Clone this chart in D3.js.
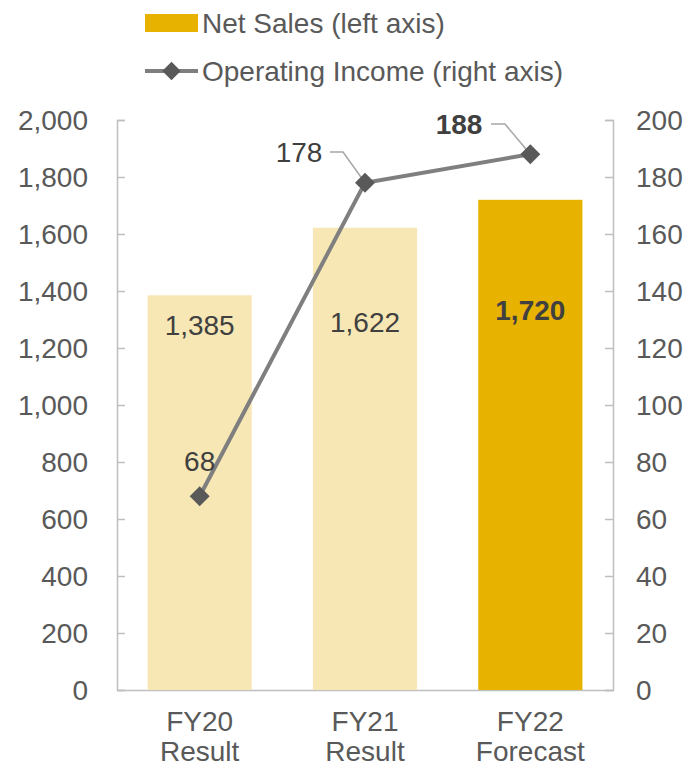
<!DOCTYPE html>
<html><head><meta charset="utf-8">
<script src="https://cdn.jsdelivr.net/npm/d3@7"></script>
<style>body{margin:0;background:#fff}svg{display:block;font-family:"Liberation Sans",Arial,sans-serif}</style>
</head><body><svg id="c" width="685" height="768"></svg>
<script>
const categories = ["FY20|Result","FY21|Result","FY22|Forecast"];
const netSales = [1385,1622,1720];
const opIncome = [68,178,188];
const leftTicks = [0,200,400,600,800,1000,1200,1400,1600,1800,2000];
const rightTicks = [0,20,40,60,80,100,120,140,160,180,200];
const barColors = ["#F7E7B4","#F7E7B4","#E8B200"];
const boldLabel = [false,false,true];

const svg = d3.select("#c");
const L=117,R=613,T=120,B=690, FS=28;
const x = d3.scaleBand().domain(categories).range([L,R]).paddingInner(0.37).paddingOuter(0.185);
const yL = d3.scaleLinear().domain([0,2000]).range([B,T]);
const yR = d3.scaleLinear().domain([0,200]).range([B,T]);
const axisCol="#BFBFBF", txtCol="#595959", lblCol="#404040";

// axes
const gl = svg.append("g").attr("transform",`translate(${L},0)`)
  .call(d3.axisRight(yL).tickValues(leftTicks).tickSize(8).tickFormat(""));
const gr = svg.append("g").attr("transform",`translate(${R},0)`)
  .call(d3.axisLeft(yR).tickValues(rightTicks).tickSize(8).tickFormat(""));
[gl,gr].forEach(g=>{g.selectAll("path,line").attr("stroke",axisCol).attr("stroke-width",1.5);});
const gb = svg.append("g").attr("transform",`translate(0,${B})`)
  .call(d3.axisBottom(x).tickSize(0).tickFormat(""));
gb.select("path").attr("stroke",axisCol).attr("stroke-width",1.5);

// tick labels
svg.append("g").selectAll("text").data(leftTicks).join("text")
  .attr("x",88).attr("y",d=>yL(d)).attr("dy","0.35em").attr("text-anchor","end")
  .attr("font-size",FS).attr("fill",txtCol).text(d=>d3.format(",")(d));
svg.append("g").selectAll("text").data(rightTicks).join("text")
  .attr("x",636).attr("y",d=>yR(d)).attr("dy","0.35em").attr("text-anchor","start")
  .attr("font-size",FS).attr("fill",txtCol).text(d=>d);

// category labels
const cl = svg.append("g").selectAll("text").data(categories).join("text")
  .attr("x",d=>x(d)+x.bandwidth()/2).attr("text-anchor","middle")
  .attr("font-size",FS).attr("fill",txtCol);
cl.append("tspan").attr("x",d=>x(d)+x.bandwidth()/2).attr("y",731).text(d=>d.split("|")[0]);
cl.append("tspan").attr("x",d=>x(d)+x.bandwidth()/2).attr("y",761).text(d=>d.split("|")[1]);

// bars
svg.append("g").selectAll("rect").data(netSales).join("rect")
  .attr("x",(d,i)=>x(categories[i])).attr("width",x.bandwidth())
  .attr("y",d=>yL(d)).attr("height",d=>B-yL(d)).attr("fill",(d,i)=>barColors[i]);

// bar labels
const barLabelDy=[30,94,110];
svg.append("g").selectAll("text").data(netSales).join("text")
  .attr("x",(d,i)=>x(categories[i])+x.bandwidth()/2).attr("y",(d,i)=>yL(d)+barLabelDy[i])
  .attr("dy","0.35em").attr("text-anchor","middle").attr("font-size",FS)
  .attr("font-weight",(d,i)=>boldLabel[i]?"bold":"normal").attr("fill",lblCol)
  .text(d=>d3.format(",")(d));

// line
const cx = i=>x(categories[i])+x.bandwidth()/2;
const line = d3.line().x((d,i)=>cx(i)).y(d=>yR(d));
svg.append("path").datum(opIncome).attr("d",line).attr("fill","none")
  .attr("stroke","#7F7F7F").attr("stroke-width",4);

// leader lines
const leaders = [null,[[330,152],[343,152],[cx(1),yR(opIncome[1])]],[[491,124],[505,124],[cx(2),yR(opIncome[2])]]];
leaders.forEach(p=>{ if(p) svg.append("path").attr("d",d3.line()(p)).attr("fill","none").attr("stroke","#A6A6A6").attr("stroke-width",1.5);});

// markers
svg.append("g").selectAll("path").data(opIncome).join("path")
  .attr("d",d3.symbol().type(d3.symbolSquare).size(200))
  .attr("transform",(d,i)=>`translate(${cx(i)},${yR(d)}) rotate(45)`).attr("fill","#595959");

// line labels
const lblPos=[[cx(0),461],[299,152],[459,124]];
svg.append("g").selectAll("text").data(opIncome).join("text")
  .attr("x",(d,i)=>lblPos[i][0]).attr("y",(d,i)=>lblPos[i][1]).attr("dy","0.35em")
  .attr("text-anchor","middle").attr("font-size",FS)
  .attr("font-weight",(d,i)=>boldLabel[i]?"bold":"normal").attr("fill",lblCol).text(d=>d);

// legend
const lg = svg.append("g");
lg.append("rect").attr("x",145).attr("y",14).attr("width",53).attr("height",18).attr("fill",barColors[2]);
lg.append("text").attr("x",202).attr("y",23).attr("dy","0.35em").attr("font-size",FS).attr("fill",txtCol).text("Net Sales (left axis)");
lg.append("line").attr("x1",145).attr("x2",198).attr("y1",71).attr("y2",71).attr("stroke","#7F7F7F").attr("stroke-width",4);
lg.append("path").attr("d",d3.symbol().type(d3.symbolSquare).size(170)).attr("transform","translate(171.5,71) rotate(45)").attr("fill","#595959");
lg.append("text").attr("x",202).attr("y",71).attr("dy","0.35em").attr("font-size",FS).attr("fill",txtCol).text("Operating Income (right axis)");
</script></body></html>
